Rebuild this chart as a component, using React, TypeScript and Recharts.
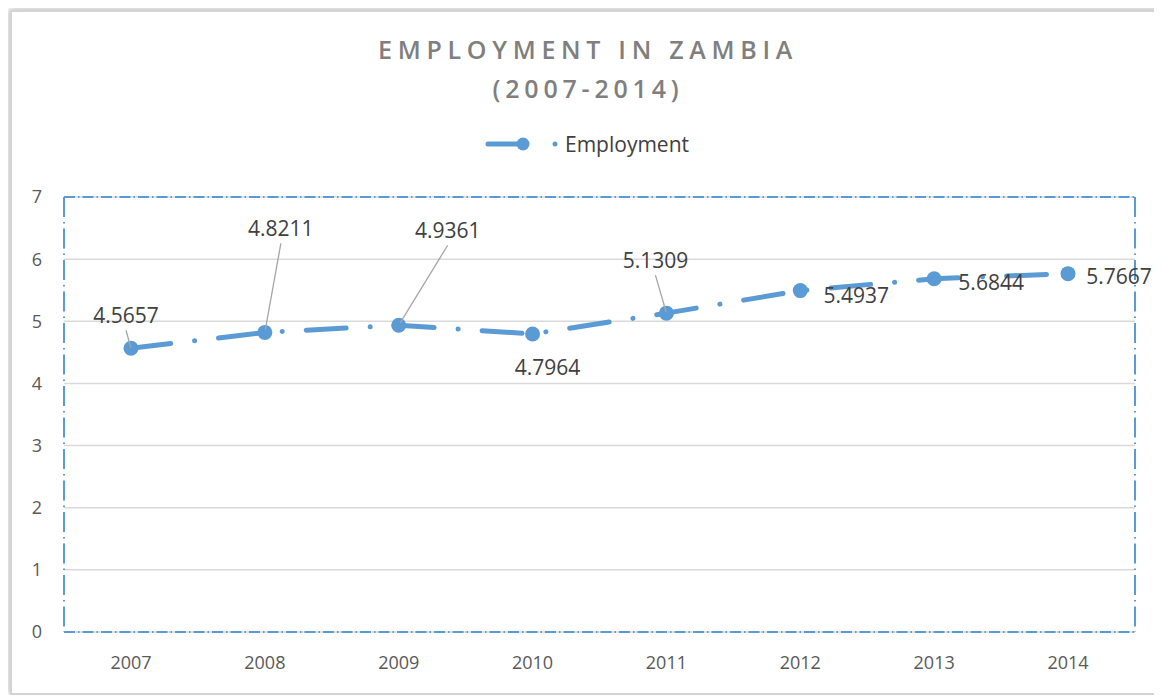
import React from 'react';
import * as Recharts from 'recharts';
import { LineChart, Line, XAxis, YAxis, CartesianGrid, Legend, LabelList, ReferenceLine } from 'recharts';

const years = ['2007', '2008', '2009', '2010', '2011', '2012', '2013', '2014'];
const employment = [4.5657, 4.8211, 4.9361, 4.7964, 5.1309, 5.4937, 5.6844, 5.7667];
const yTicks = [0, 1, 2, 3, 4, 5, 6, 7];

// label placement (layout only): offset of label centre from point, and whether a leader line is drawn
const labelOffsets = [
  { dx: -5, dy: -33, leader: true },
  { dx: 16, dy: -104, leader: true },
  { dx: 49, dy: -95, leader: true },
  { dx: 15, dy: 34, leader: false },
  { dx: -11, dy: -53, leader: true },
  { dx: 56, dy: 5, leader: false },
  { dx: 57, dy: 4, leader: false },
  { dx: 51, dy: 3, leader: false },
];

const data = years.map((y, i) => ({ year: y, value: employment[i] }));

const BLUE = '#5b9bd5';
const FONT = '"Open Sans", sans-serif';
const H_DASH = '11 3 1.5 3';
const V_DASH = '20 5 1.5 5';

const DataLabel = (props: any) => {
  const { x, y, index, value } = props;
  const o = labelOffsets[index];
  const tx = x + o.dx;
  const ty = y + o.dy;
  let leader = null;
  if (o.leader) {
    const sy = ty + (o.dy < 0 ? 15 : -15);
    const sx = tx;
    const ex = x + (sx - x) * 0.03;
    const ey = y + (sy - y) * 0.03;
    leader = <line x1={sx} y1={sy} x2={ex} y2={ey} stroke="#a6a6a6" strokeWidth={1.3} />;
  }
  return (
    <g>
      {leader}
      <text x={tx} y={ty} dy="0.35em" textAnchor="middle" fontFamily={FONT} fontSize={21} fill="#404040">
        {value}
      </text>
    </g>
  );
};

const LegendContent = () => (
  <div style={{ display: 'flex', justifyContent: 'center', alignItems: 'center', height: 30 }}>
    <svg width={76} height={20} style={{ marginRight: 4 }}>
      <line x1={3} y1={10} x2={40} y2={10} stroke={BLUE} strokeWidth={5} strokeLinecap="round" />
      <circle cx={38} cy={10} r={6.5} fill={BLUE} />
      <circle cx={70} cy={10} r={2.5} fill={BLUE} />
    </svg>
    <span style={{ fontFamily: FONT, fontSize: 21, color: '#404040' }}>Employment</span>
  </div>
);

const PlotBorder = () => {
  const hook = (Recharts as any).usePlotArea;
  const area = hook ? hook() : null;
  if (!area) return null;
  const { x, y, width, height } = area;
  return (
    <g>
      <line x1={x + width} y1={y} x2={x + width} y2={y + height} stroke={BLUE} strokeWidth={2} strokeDasharray={V_DASH} />
    </g>
  );
};

export default function App() {
  return (
    <div
      style={{
        position: 'relative',
        marginLeft: 2,
        marginTop: 2,
        width: 1150,
        height: 681,
        border: '2px solid #d4d4d4',
        boxShadow: '0 -3px 6px rgba(0,0,0,0.15), -3px 0 5px rgba(0,0,0,0.12)',
        background: '#fff',
      }}
    >
      <div
        style={{
          position: 'absolute',
          top: 18,
          left: 0,
          width: 1150,
          textAlign: 'center',
          fontFamily: FONT,
          fontWeight: 600,
          fontSize: 25,
          color: '#7f7f7f',
          lineHeight: '39px',
          paddingLeft: 2,
          boxSizing: 'border-box',
        }}
      >
        <div style={{ letterSpacing: 5.7 }}>EMPLOYMENT IN ZAMBIA</div>
        <div style={{ letterSpacing: 4.8 }}>(2007-2014)</div>
      </div>
      <LineChart width={1150} height={681} data={data} margin={{ top: 155, right: 27, bottom: 31, left: 0 }}>
        <Legend
          verticalAlign="top"
          content={<LegendContent />}
          wrapperStyle={{ top: 117, left: 0, width: 1150 }}
        />
        <CartesianGrid vertical={false} stroke="#d9d9d9" strokeWidth={1.5} />
        <XAxis
          dataKey="year"
          height={30}
          padding={{ left: 67, right: 67 }}
          tickLine={false}
          tickSize={0}
          tickMargin={24}
          interval={0}
          tick={{ fontFamily: FONT, fontSize: 18, fill: '#595959' }}
          axisLine={{ stroke: BLUE, strokeWidth: 2, strokeDasharray: H_DASH }}
        />
        <YAxis
          domain={[0, 7]}
          ticks={yTicks}
          width={52}
          tickLine={false}
          tickSize={0}
          tickMargin={22}
          interval={0}
          tick={{ fontFamily: FONT, fontSize: 18, fill: '#595959' }}
          axisLine={{ stroke: BLUE, strokeWidth: 2, strokeDasharray: V_DASH }}
        />
        <ReferenceLine y={7} stroke={BLUE} strokeWidth={2} strokeDasharray={H_DASH} />
        <PlotBorder />
        <Line
          dataKey="value"
          name="Employment"
          stroke={BLUE}
          strokeWidth={5}
          strokeLinecap="round"
          strokeDasharray="40 24 0.1 24"
          dot={{ r: 7.5, fill: BLUE, stroke: 'none' }}
          activeDot={false}
          isAnimationActive={false}
        >
          <LabelList dataKey="value" content={<DataLabel />} />
        </Line>
      </LineChart>
    </div>
  );
}
